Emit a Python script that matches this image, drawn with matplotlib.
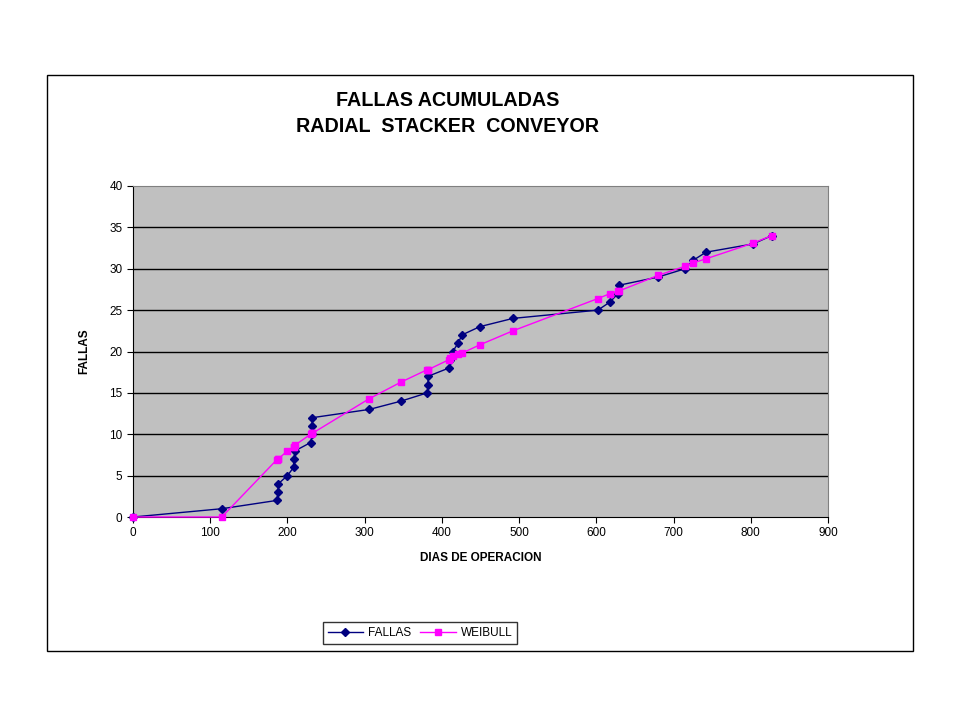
import matplotlib.pyplot as plt
from matplotlib.patches import Rectangle

plt.rcParams['font.family'] = ['Liberation Sans', 'DejaVu Sans']

# dias de operacion (same x for both series)
dias = [0, 115, 186, 188, 188, 200, 208, 208, 210, 230, 232, 232, 232, 306, 347,
        381, 382, 382, 409, 411, 414, 421, 426, 449, 492, 602, 618, 628, 629, 680,
        715, 725, 742, 803, 827]
fallas = list(range(0, 35))
weibull = [0, 0, 6.9, 7.0, 7.0, 8.0, 8.5, 8.5, 8.7, 10.0, 10.1, 10.1, 10.1, 14.3, 16.3,
           17.8, 17.8, 17.8, 19.0, 19.2, 19.4, 19.7, 19.8, 20.8, 22.5, 26.4, 27.0, 27.3, 27.3, 29.2,
           30.3, 30.7, 31.2, 33.1, 34.0]

fig = plt.figure(figsize=(9.6, 7.2), dpi=100)
fig.patches.append(Rectangle((47 / 960, 69 / 720), 866 / 960, 576 / 720, transform=fig.transFigure,
                             fill=False, edgecolor='black', linewidth=1))

ax = fig.add_axes([133 / 960, 203 / 720, 695 / 960, 331 / 720])
ax.set_facecolor('#C0C0C0')

l1, = ax.plot(dias, fallas, color='#000080', marker='D', markersize=4.5, linewidth=1,
              label='FALLAS', clip_on=False, zorder=3)
l2, = ax.plot(dias, weibull, color='#FF00FF', marker='s', markersize=5, linewidth=1,
              label='WEIBULL', clip_on=False, zorder=3)

ax.set_xlim(0, 900)
ax.set_ylim(0, 40)
ax.set_xticks(range(0, 901, 100))
ax.set_yticks(range(0, 41, 5))
for y in range(5, 40, 5):
    ax.axhline(y, color='black', linewidth=1, zorder=0.5)
for s in ax.spines.values():
    s.set_color('#808080')
ax.spines['left'].set_color('black')
ax.spines['bottom'].set_color('black')
ax.tick_params(labelsize=8.5, length=4, direction='out')

ax.set_xlabel('DIAS DE OPERACION', fontsize=8.5, fontweight='bold', labelpad=9)
ax.set_ylabel('FALLAS', fontsize=8.5, fontweight='bold', labelpad=14)

fig.text(448 / 960, 1 - 100 / 720, 'FALLAS ACUMULADAS', ha='center', va='center',
         fontsize=14.2, fontweight='bold')
fig.text(448 / 960, 1 - 126 / 720, 'RADIAL  STACKER  CONVEYOR', ha='center', va='center',
         fontsize=14.2, fontweight='bold')

leg = fig.legend(handles=[l1, l2], loc='center', bbox_to_anchor=(420 / 960, 1 - 633 / 720),
                 ncol=2, fontsize=8.5, frameon=True, fancybox=False, edgecolor='black',
                 handlelength=3, columnspacing=0.8, handletextpad=0.4, borderpad=0.4)
leg.get_frame().set_linewidth(1)

plt.savefig('out.png')
